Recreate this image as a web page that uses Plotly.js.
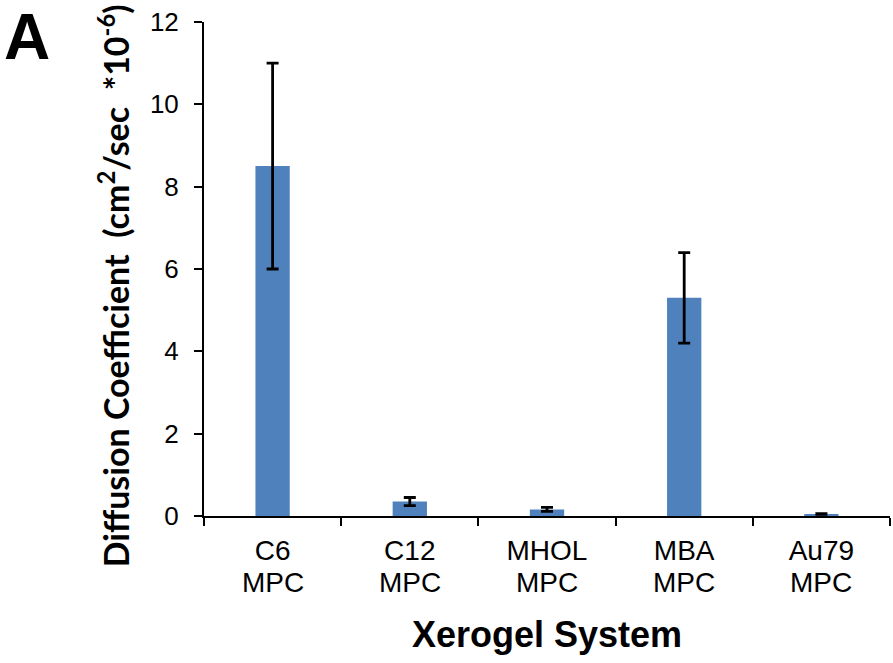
<!DOCTYPE html>
<html>
<head>
<meta charset="utf-8">
<script src="https://cdn.plot.ly/plotly-3.0.1.min.js"></script>
<style>
  html, body { margin: 0; padding: 0; background: #ffffff; }
  #chart { width: 893px; height: 663px; }
</style>
</head>
<body>
<div id="chart"></div>
<script>
// Diffusion coefficients of the xerogel systems (cm^2/sec x 10^-6)
const systems = ["C6", "C12", "MHOL", "MBA", "Au79"];
const systemType = ["MPC", "MPC", "MPC", "MPC", "MPC"];
const diffusion = [8.5, 0.35, 0.16, 5.3, 0.05];
const errPlus = [2.5, 0.1, 0.05, 1.1, 0.01];
const errMinus = [2.5, 0.1, 0.05, 1.1, 0.01];
const yTicks = [0, 2, 4, 6, 8, 10, 12];

const ARIAL = "Liberation Sans, Arial, sans-serif";

const trace = {
  type: "bar",
  x: systems,
  y: diffusion,
  width: 0.25,
  marker: { color: "#4F81BD", line: { width: 0 } },
  error_y: {
    type: "data",
    symmetric: false,
    array: errPlus,
    arrayminus: errMinus,
    color: "#000000",
    thickness: 2.8,
    width: 6
  },
  hoverinfo: "skip"
};

// second row of the category labels, tighter than a <br> line break
const typeLabels = systemType.map((t, i) => ({
  text: t,
  xref: "x", yref: "paper",
  x: i, y: -0.134,
  xanchor: "center", yanchor: "middle",
  showarrow: false,
  font: { size: 28, family: ARIAL, color: "#000000" }
}));

const layout = {
  width: 893,
  height: 663,
  margin: { l: 204, r: 3, t: 22, b: 147 },
  paper_bgcolor: "#ffffff",
  plot_bgcolor: "#ffffff",
  showlegend: false,
  font: { family: ARIAL, color: "#000000" },
  xaxis: {
    type: "category",
    range: [-0.5, 4.5],
    tickson: "boundaries",
    ticks: "outside",
    ticklen: 8,
    tickwidth: 2,
    tickcolor: "#000000",
    ticklabelstandoff: 8,
    showline: true,
    linecolor: "#000000",
    linewidth: 2,
    showgrid: false,
    zeroline: false,
    tickfont: { size: 28, family: ARIAL }
  },
  yaxis: {
    range: [0, 12],
    tickvals: yTicks,
    ticktext: yTicks.map(String),
    ticks: "outside",
    ticklen: 8,
    tickwidth: 2,
    tickcolor: "#000000",
    ticklabelstandoff: 10,
    showline: true,
    linecolor: "#000000",
    linewidth: 2,
    showgrid: false,
    zeroline: false,
    tickfont: { size: 26, family: ARIAL }
  },
  annotations: typeLabels.concat([
    {
      text: "<b>Xerogel System</b>",
      xref: "paper", yref: "paper",
      x: 0.5, y: -0.239,
      xanchor: "center", yanchor: "middle",
      showarrow: false,
      font: { size: 36, family: ARIAL, color: "#000000" }
    },
    {
      text: "<b>Diffusion Coefficient\u00a0\u00a0(cm<sup>2</sup>/sec\u00a0\u00a0*10<sup>-6</sup>)</b>",
      xref: "paper", yref: "paper",
      x: -0.132, y: 0.466,
      xanchor: "center", yanchor: "middle",
      textangle: -90,
      showarrow: false,
      font: { size: 34, family: "Lato, Open Sans, sans-serif", color: "#000000" }
    },
    {
      text: "<b>A</b>",
      xref: "paper", yref: "paper",
      x: -0.295, y: 0.97,
      xanchor: "left", yanchor: "middle",
      showarrow: false,
      font: { size: 64, family: ARIAL, color: "#000000" }
    }
  ])
};

Plotly.newPlot("chart", [trace], layout, { displayModeBar: false, staticPlot: true });
</script>
</body>
</html>
